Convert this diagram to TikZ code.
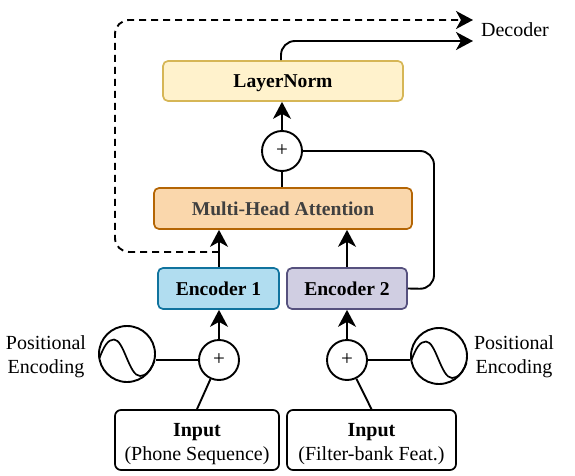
\documentclass[tikz,border=0pt]{standalone}
\usepackage{fontspec}
\setmainfont{Liberation Serif}
\usetikzlibrary{arrows.meta,calc}
\definecolor{lnfill}{HTML}{FFF2CC}\definecolor{lndraw}{HTML}{D6B656}
\definecolor{mhfill}{HTML}{FAD7AC}\definecolor{mhdraw}{HTML}{B46504}
\definecolor{eafill}{HTML}{B1DDF0}\definecolor{eadraw}{HTML}{10739E}
\definecolor{ebfill}{HTML}{D0CEE2}\definecolor{ebdraw}{HTML}{56517E}
\newcommand{\sinewave}{%
  (-27.5,4) .. controls (-23,-8) and (-19,-14.5) .. (-13,-14.5)
  .. controls (-3,-14.5) and (2,22) .. (13,22)
  .. controls (19,22) and (24,16) .. (27.5,7)}
\tikzset{
  x=1pt,y=-1pt,
  txt/.style={font=\fontsize{20}{24}\selectfont,align=center,inner sep=0pt},
  boxn/.style={draw,rounded corners=5pt,line width=1.7pt,inner sep=0pt,font=\fontsize{19.6}{24}\selectfont\bfseries,align=center,text height=14pt,text depth=0pt},
  inpn/.style={draw=black,rounded corners=6pt,line width=1.7pt,inner sep=0pt,font=\fontsize{20}{24}\selectfont,align=center},
  sumn/.style={draw,circle,line width=1.9pt,minimum size=40pt,inner sep=0pt,fill=white,font=\fontsize{21}{22}\selectfont},
  sinen/.style={draw,circle,line width=1.9pt,minimum size=56pt,inner sep=0pt},
  conn/.style={line width=1.9pt,line join=round},
  arr/.style={conn,-{Stealth[length=17pt,width=18pt,inset=5pt]}},
}
\begin{document}
\begin{tikzpicture}
\useasboundingbox (0,0) rectangle (575,476);
\node[boxn,fill=lnfill,draw=lndraw,minimum width=240pt,minimum height=40pt] (ln) at (283,81) {LayerNorm};
\node[boxn,fill=mhfill,draw=mhdraw,text=black!75,minimum width=258pt,minimum height=41pt] (mh) at (283,208.5) {Multi-Head Attention};
\node[sumn] (top) at (282,151) {+};
\node[boxn,fill=eafill,draw=eadraw,minimum width=121pt,minimum height=41pt] (e1) at (218.5,288.5) {Encoder 1};
\node[boxn,fill=ebfill,draw=ebdraw,minimum width=120pt,minimum height=41pt] (e2) at (347,288.5) {Encoder 2};
\node[sumn] (s1) at (219,360) {+};
\node[sumn] (s2) at (347,360) {+};
\node[sinen] (w1) at (127,354) {};
\node[sinen] (w2) at (439,356) {};
\node[inpn,minimum width=164pt,minimum height=60pt] (i1) at (197,440) {\rule{0pt}{21pt}\textbf{Input}\\(Phone Sequence)};
\node[inpn,minimum width=169pt,minimum height=60pt] (i2) at (371.5,440) {\rule{0pt}{21pt}\textbf{Input}\\(Filter-bank Feat.)};
\node[txt] (dec) at (515,30) {Decoder};
\node[txt] (p1) at (46,356.5) {Positional\\Encoding};
\node[txt] (p2) at (514,356.5) {Positional\\Encoding};
\coordinate (dtip) at (473,20);
\coordinate (stip) at (473,41);
\coordinate (dl) at (115,20);
\coordinate (dr) at (115,252);
\coordinate (dj) at (219,252);
\coordinate (rc) at (434,151);
\coordinate (rd) at (434,289);
% connectors
\draw[conn] (mh.north -| top) -- (top);
\draw[arr] (top) -- (ln.south -| top);
\draw[arr] (e1.north -| dj) -- (mh.south -| dj);
\draw[arr] (e2.north) -- (mh.south -| e2.north);
\draw[arr] (s1) -- (e1.south -| s1);
\draw[arr] (s2) -- (e2.south -| s2);
\draw[conn] (i1.north) -- (s1);
\draw[conn] (i2.north) -- (s2);
\draw[conn] (w1.east |- s1) -- (s1);
\draw[conn] (w2.west |- s2) -- (s2);
\draw[conn,rounded corners=14pt] (e2.east) -- (rd) -- (rc) -- (top);
\draw[arr,rounded corners=14pt] (ln.north -| 281,0) -- (281,41) -- (stip);
\draw[arr,dash pattern=on 7pt off 5pt,rounded corners=14pt] (dj) -- (dr) -- (dl) -- (dtip);
% sine waves
\begin{scope}[shift={(w1.center)}]\draw[line width=1.7pt] \sinewave;\end{scope}
\begin{scope}[shift={(w2.center)}]\draw[line width=1.7pt] \sinewave;\end{scope}
\end{tikzpicture}
\end{document}
